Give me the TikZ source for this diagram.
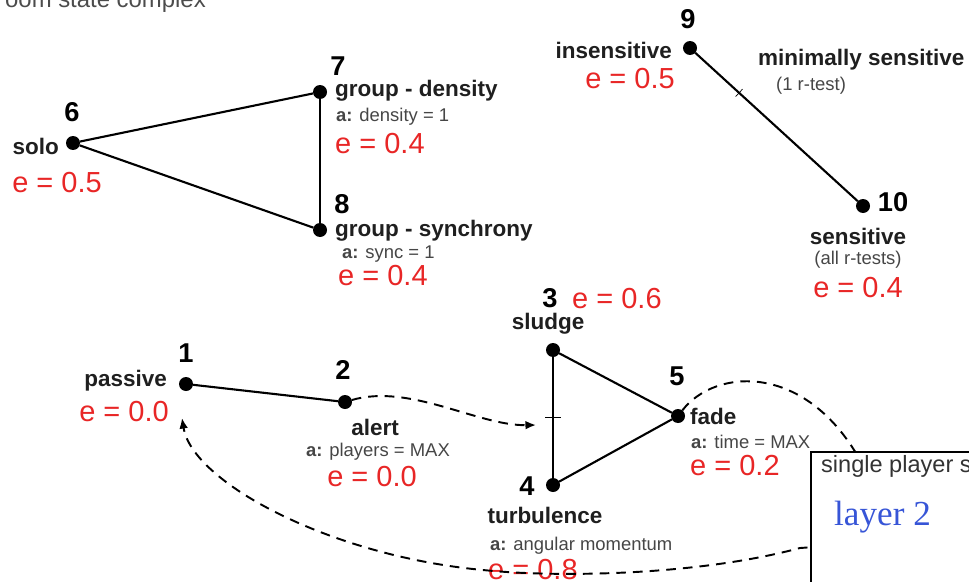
\documentclass[tikz,border=0pt]{standalone}
\usepackage{fontspec}
\setmainfont{Liberation Sans}
\newfontfamily\layerfont{Liberation Serif}
\usetikzlibrary{arrows.meta}
\definecolor{evalred}{RGB}{232,38,38}
\definecolor{actgray}{RGB}{70,70,70}
\definecolor{layerblue}{RGB}{55,85,215}

\begin{document}
\begin{tikzpicture}[x=0.02cm,y=-0.02cm]
\tikzset{state dot/.style={ %
		inner sep=0pt,
		outer sep=0pt,
		minimum size=0.28cm,
		fill=black,
		circle %
	},
	numlbl/.style={font=\bfseries\fontsize{15.5}{15}\selectfont},
	statelbl/.style={font=\bfseries\fontsize{12.8}{13}\selectfont,text=black!88},
	actlbl/.style={font=\fontsize{10.5}{11}\selectfont,text=actgray},
	evallbl/.style={font=\fontsize{16.5}{17}\selectfont,text=evalred},
	link/.style={line width=1.2pt},
	flow/.style={line width=1.1pt,dash pattern=on 5.5pt off 4pt,-{Latex[length=6pt,width=5pt]}}
}
\useasboundingbox (0,0) rectangle (969,581);
\clip (0,0) rectangle (969,581);

\node[anchor=base west,font=\fontsize{13.6}{14}\selectfont,text=black!70] (title) at (-1,8) {oom state complex};

% states
\node[state dot] (s6) at (73,143) {};
\node[state dot] (s7) at (320,92) {};
\node[state dot] (s8) at (320,230) {};
\node[state dot] (s9) at (690,48) {};
\node[state dot] (s10) at (863,206) {};
\node[state dot] (s1) at (186,384) {};
\node[state dot] (s2) at (345,402) {};
\node[state dot] (s3) at (553,350) {};
\node[state dot] (s4) at (553,485) {};
\node[state dot] (s5) at (678,416) {};

% edges
\draw[link] (s6) -- (s7);
\draw[link] (s6) -- (s8);
\draw[link] (s7) -- (s8);
\draw[link] (s9) -- (s10) coordinate[pos=0.27] (t910);
\draw[thin] (t910) ++(-3.4,3.7) -- ++(6.8,-7.4);
\draw[link] (s1) -- (s2);
\draw[link] (s3) -- (s5);
\draw[link] (s4) -- (s5);
\draw[link] (s3) -- (s4) coordinate[pos=0.5] (t34);
\draw[thin] (t34) ++(-8,0) -- ++(16,0);

% group of 6,7,8
\node[numlbl] (n6) at (72,112) {6};
\node[statelbl,anchor=east] (solo) at (65,146) {solo};
\node[evallbl] (e6) at (57,183) {e = 0.5};
\node[numlbl] (n7) at (338,66) {7};
\node[statelbl,anchor=west] (dens) at (329,91) {group - density};
\node[actlbl,anchor=west] (a7) at (330,117) {\textbf{a:} density = 1};
\node[evallbl,anchor=west] (e7) at (329,144) {e = 0.4};
\node[numlbl] (n8) at (342,204) {8};
\node[statelbl,anchor=west] (sync) at (329,231) {group - synchrony};
\node[actlbl,anchor=west] (a8) at (336,254) {\textbf{a:} sync = 1};
\node[evallbl,anchor=west] (e8) at (332,276) {e = 0.4};

% 9 and 10
\node[numlbl] (n9) at (688,19) {9};
\node[statelbl,anchor=east] (insens) at (678,50) {insensitive};
\node[evallbl] (e9) at (630,79) {e = 0.5};
\node[statelbl,anchor=west] (minsens) at (752,60) {minimally sensitive};
\node[actlbl,anchor=west] (rtest) at (770,86) {(1 r-test)};
\node[numlbl] (n10) at (893,202) {10};
\node[statelbl] (sens) at (858,236) {sensitive};
\node[actlbl] (allr) at (858,260) {(all r-tests)};
\node[evallbl] (e10) at (858,288) {e = 0.4};

% 1 and 2
\node[numlbl] (n1) at (186,353) {1};
\node[statelbl,anchor=east] (passive) at (173,381) {passive};
\node[evallbl,anchor=east] (e1) at (175,412) {e = 0.0};
\node[numlbl] (n2) at (343,370) {2};
\node[statelbl] (alert) at (375,427) {alert};
\node[actlbl] (a2) at (378,452) {\textbf{a:} players = MAX};
\node[evallbl] (e2) at (372,477) {e = 0.0};

% 3, 4, 5
\node[numlbl] (n3) at (550,298) {3};
\node[evallbl,anchor=west] (e3) at (566,299) {e = 0.6};
\node[statelbl] (sludge) at (548,324) {sludge};
\node[numlbl] (n5) at (677,376) {5};
\node[statelbl,anchor=west] (fade) at (684,416) {fade};
\node[actlbl,anchor=west] (a5) at (685,442) {\textbf{a:} time = MAX};
\node[evallbl,anchor=west] (e5) at (684,466) {e = 0.2};
\node[numlbl] (n4) at (527,486) {4};
\node[statelbl] (turb) at (545,515) {turbulence};
\node[actlbl,anchor=west] (a4) at (484,546) {\textbf{a:} angular momentum};
\node[evallbl,anchor=west] (e4) at (482,570) {e = 0.8};

% transitions
\coordinate (tipA) at (536,425);
\coordinate (tipB) at (182,418);
\draw[flow] (s2) .. controls (410,383) and (478,426) .. (tipA);
\draw[flow] (s5) .. controls (715,368) and (805,362) .. (860,460)
  .. controls (895,530) and (850,545) .. (800,548)
  .. controls (700,575) and (560,578) .. (483,570)
  .. controls (330,556) and (192,482) .. (tipB);

% layer box
\draw[line width=1.5pt,fill=white] (811,452) rectangle (1000,620);
\node[anchor=west,font=\fontsize{13.4}{14}\selectfont,text=black!80] (boxtitle) at (815,466) {single player s};
\node[anchor=west,font=\layerfont\fontsize{20}{21}\selectfont,text=layerblue] (layer) at (828,517) {layer 2};

\end{tikzpicture}
\end{document}
